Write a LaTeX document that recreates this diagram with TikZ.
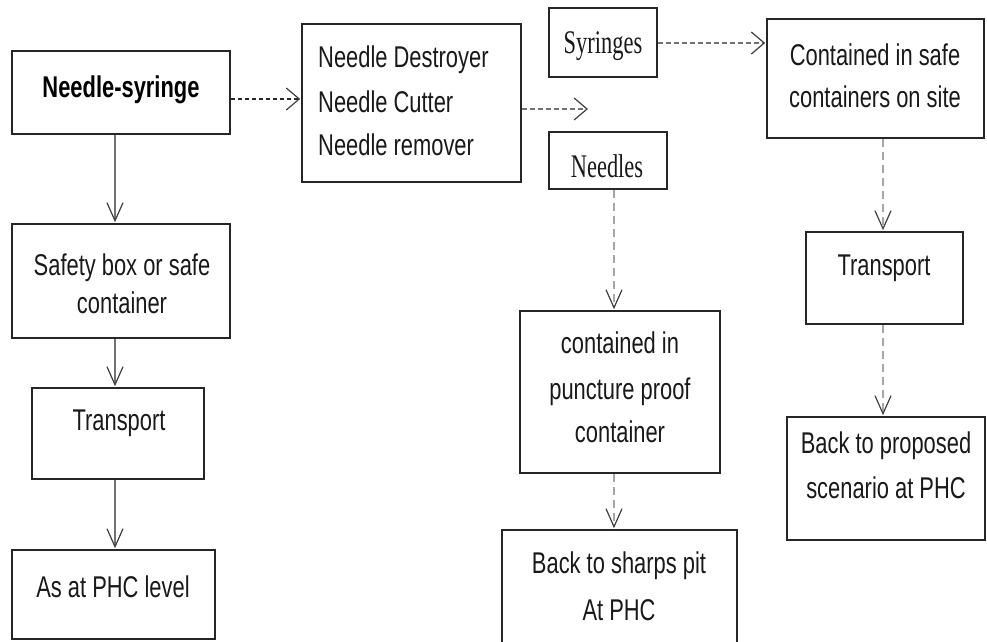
\documentclass[tikz,border=0pt]{standalone}
\usepackage{fontspec}
\setmainfont{Liberation Sans}[FakeStretch=0.73]
\newfontfamily\narrowserif{Liberation Serif}[FakeStretch=0.68]
\usetikzlibrary{arrows.meta}
\begin{document}
\begin{tikzpicture}[x=1pt,y=-1pt,
  box/.style={draw=black!85, line width=1.6pt, rectangle, inner sep=0pt},
  txt/.style={inner sep=0pt, anchor=base, text=black!90, font=\fontsize{30}{36}\selectfont},
  stxt/.style={inner sep=0pt, anchor=base, text=black!90, font=\narrowserif\fontsize{33}{38}\selectfont},
  btxt/.style={inner sep=0pt, anchor=base, text=black, font=\bfseries\fontsize{30}{36}\selectfont},
  vtip/.style={-{Straight Barb[length=18pt,width=16pt,line width=1.2pt,color=black!75]}},
  htip/.style={-{Straight Barb[length=13pt,width=22pt,line width=1.2pt,color=black!75]}},
  solidgray/.style={vtip, draw=black!55, line width=1.1pt, shorten >=1pt},
  dashgray/.style={vtip, draw=black!35, line width=1.6pt, dash pattern=on 8pt off 5pt, shorten >=1pt},
  dashdark/.style={htip, draw=black!85, line width=1.7pt, dash pattern=on 4pt off 3pt, shorten >=1pt},
  dashmid/.style={htip, draw=black!55, line width=2pt, dash pattern=on 5pt off 3pt, shorten >=1pt}
]
\useasboundingbox (0,0) rectangle (987,641);
\begin{scope}
\clip (0,0) rectangle (987,641);
% boxes
\node[box, minimum width=218pt, minimum height=83pt]  (ns) at (121,92.5) {};
\node[box, minimum width=218pt, minimum height=114pt] (sb) at (121,281) {};
\node[box, minimum width=172pt, minimum height=91pt]  (tl) at (118,433.5) {};
\node[box, minimum width=203pt, minimum height=89pt]  (ap) at (113.5,594.5) {};
\node[box, minimum width=219pt, minimum height=158pt] (nd) at (411.5,103) {};
\node[box, minimum width=108pt, minimum height=69pt]  (sy) at (603,42.5) {};
\node[box, minimum width=217pt, minimum height=119pt] (cs) at (875.5,78.5) {};
\node[box, minimum width=118pt, minimum height=57pt]  (ne) at (608,160.5) {};
\node[box, minimum width=200pt, minimum height=162pt] (cp) at (620,392) {};
\node[box, minimum width=235pt, minimum height=130pt] (bs) at (619.5,595) {};
\node[box, minimum width=157pt, minimum height=92pt]  (tr) at (884.5,278) {};
\node[box, minimum width=198pt, minimum height=123pt] (bp) at (886,478.5) {};
\end{scope}

% texts
\node[btxt] (ns-t) at (121,97) {Needle-syringe};
\node[txt] (sb-t1) at (122,275) {Safety box or safe};
\node[txt] (sb-t2) at (122,313) {container};
\node[txt] (tl-t) at (119,430) {Transport};
\node[txt] (ap-t) at (113,597) {As at PHC level};
\node[txt, anchor=base west] (nd-t1) at (318,67) {Needle Destroyer};
\node[txt, anchor=base west] (nd-t2) at (318,112) {Needle Cutter};
\node[txt, anchor=base west] (nd-t3) at (318,155) {Needle remover};
\node[stxt] (sy-t) at (603,53) {Syringes};
\node[stxt] (ne-t) at (607,177) {Needles};
\node[txt] (cs-t1) at (875,65) {Contained in safe};
\node[txt] (cs-t2) at (875,107) {containers on site};
\node[txt] (cp-t1) at (620,353) {contained in};
\node[txt] (cp-t2) at (620,399) {puncture proof};
\node[txt] (cp-t3) at (620,442) {container};
\node[txt] (bs-t1) at (619,573) {Back to sharps pit};
\node[txt] (bs-t2) at (619,620) {At PHC};
\node[txt] (tr-t) at (884,275) {Transport};
\node[txt] (bp-t1) at (886,453) {Back to proposed};
\node[txt] (bp-t2) at (886,498) {scenario at PHC};

% guide coordinates
\coordinate (xl) at (115,0);
\coordinate (xm) at (614,0);
\coordinate (xr) at (883,0);
\coordinate (y1) at (0,99);
\coordinate (y2) at (0,109);
\coordinate (y3) at (0,43);
\coordinate (free) at (589,109);

% connectors
\draw[solidgray] (ns.south -| xl) -- (sb.north -| xl);
\draw[solidgray] (sb.south -| xl) -- (tl.north -| xl);
\draw[solidgray] (tl.south -| xl) -- (ap.north -| xl);
\draw[dashdark] (ns.east |- y1) -- (nd.west |- y1);
\draw[dashmid] (nd.east |- y2) -- (free);
\draw[dashmid] (sy.east |- y3) -- (cs.west |- y3);
\draw[dashgray] (ne.south -| xm) -- (cp.north -| xm);
\draw[dashgray] (cp.south -| xm) -- (bs.north -| xm);
\draw[dashgray] (cs.south -| xr) -- (tr.north -| xr);
\draw[dashgray] (tr.south -| xr) -- (bp.north -| xr);
\end{tikzpicture}
\end{document}
